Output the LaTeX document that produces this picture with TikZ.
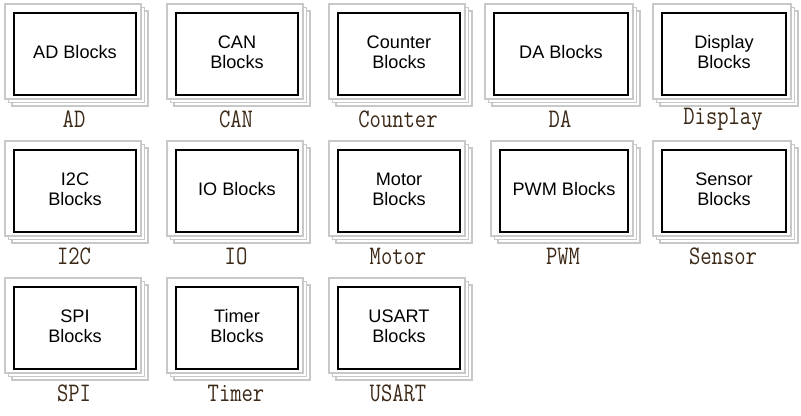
\documentclass[tikz,border=0pt]{standalone}
\usepackage{fontspec}
\setsansfont{Liberation Sans}
\definecolor{framegray}{RGB}{200,200,200}
\definecolor{labelcol}{RGB}{60,40,22}
\newcommand\myblock[6]{%
  \draw[frame] ({#2-1},{#4-1}) rectangle ({#3+13},{#4+94});
  \draw[frame] ({#2-4.5},{#4-4.5}) rectangle ({#3+9.5},{#4+90.5});
  \draw[frame] ({#2-8},{#4-8}) rectangle ({#3+6},{#4+87});
  \node[blockbox,minimum width={(#3-#2)*0.75pt},minimum height=61.5pt] (#1) at (#2,#4) {};
  \node[blocktext] (#1-text) at ([yshift=1.5pt]#1.center) {#5};
  \node[blocklabel] (#1-label) at ({(#2+#3)/2},{#4+107}) {\scalebox{0.97}[1.18]{#6}};
}
\begin{document}
\begin{tikzpicture}[x=0.75pt,y=-0.75pt,
  frame/.style={draw=framegray,line width=1pt,fill=white},
  blockbox/.style={draw=black,line width=1.5pt,fill=white,inner sep=0pt,anchor=north west},
  blocktext/.style={inner sep=0pt,font=\sffamily\fontsize{13.6}{14.8}\selectfont,align=center},
  blocklabel/.style={font=\ttfamily\fontsize{17}{20}\selectfont,text=labelcol,inner sep=0pt}]
\useasboundingbox (0,0) rectangle (801,415);
% row 1
\myblock{ad}{13}{135}{12}{AD Blocks}{AD}
\myblock{can}{175}{297}{12}{CAN\\Blocks}{CAN}
\myblock{counter}{337}{459}{12}{Counter\\Blocks}{Counter}
\myblock{da}{493}{627}{12}{DA Blocks}{DA}
\myblock{display}{661}{785}{12}{Display\\Blocks}{Display}
% row 2
\myblock{i2c}{13}{135}{149}{I2C\\Blocks}{I2C}
\myblock{io}{175}{297}{149}{IO Blocks}{IO}
\myblock{motor}{337}{459}{149}{Motor\\Blocks}{Motor}
\myblock{pwm}{499}{627}{149}{PWM Blocks}{PWM}
\myblock{sensor}{661}{785}{149}{Sensor\\Blocks}{Sensor}
% row 3
\myblock{spi}{13}{135}{286}{SPI\\Blocks}{SPI}
\myblock{timer}{175}{297}{286}{Timer\\Blocks}{Timer}
\myblock{usart}{337}{459}{286}{USART\\Blocks}{USART}
\end{tikzpicture}
\end{document}
